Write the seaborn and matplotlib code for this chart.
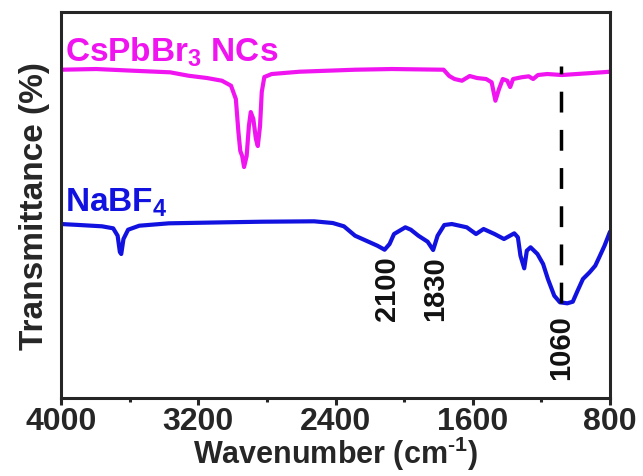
import seaborn as sns
import matplotlib.pyplot as plt
import pandas as pd

# CsPbBr3 NCs trace (wavenumber, height above bottom axis in px-like units)
cs_wn = [4000, 3795, 3580, 3364, 3257, 3149, 3062, 3009, 2981, 2966, 2955, 2944,
         2933, 2918, 2905, 2894, 2879, 2864, 2853, 2840, 2830, 2815, 2772, 2610,
         2287, 2071, 1770, 1737, 1706, 1663, 1618, 1575, 1522, 1490, 1468, 1447,
         1425, 1399, 1382, 1365, 1317, 1274, 1248, 1220, 1166, 1080, 994, 907, 800]
cs_t = [328.3, 329, 327.3, 325.7, 322.3, 320, 317.3, 312.3, 299, 266, 247, 242,
        231, 242, 272, 286, 279, 259, 252, 272, 306, 321, 324, 326.3,
        328.3, 329, 328.3, 322, 319, 317.3, 322, 320, 319, 315.7, 297.3, 309,
        319, 317.3, 311, 319, 320.7, 321.7, 319, 323, 324, 323, 324, 325, 326.3]

# NaBF4 trace
na_wn = [4000, 3892, 3761, 3696, 3670, 3657, 3649, 3636, 3609, 3544, 3371, 3045,
         2829, 2525, 2416, 2351, 2286, 2221, 2156, 2114, 2085, 2059, 1993, 1961,
         1917, 1863, 1831, 1805, 1766, 1722, 1635, 1581, 1537, 1473, 1418, 1358,
         1337, 1322, 1300, 1285, 1263, 1223, 1190, 1162, 1125, 1092, 1049, 1017,
         989, 958, 919, 886, 863, 832, 800]
na_t = [174, 173, 171.7, 169.7, 162.3, 146, 144, 159, 168.3, 172.3, 174.7, 175.7,
        176.3, 176.7, 175, 171.7, 162.3, 157.3, 152.3, 148.3, 154, 164, 170.7, 168.3,
        162.3, 156.3, 148, 162.3, 173, 174, 170.7, 164, 169, 164, 159, 164.7,
        160.7, 142.3, 129.7, 147.3, 150.7, 144, 134, 119, 102.3, 95.7, 94.7, 96.3,
        107.3, 119, 125.7, 132.3, 140.7, 152.3, 166.3]

peak_labels = ["2100", "1830", "1060"]
peak_x = [2102, 1820, 1084]
peak_y = [110, 110, 51]
dash_x = 1084
dash_top = 332
dash_bottom = 95

sns.set_style("ticks")
plt.rcParams['font.family'] = ['Liberation Sans', 'DejaVu Sans']
plt.rcParams['font.weight'] = 'bold'
plt.rcParams['mathtext.fontset'] = 'custom'
plt.rcParams['mathtext.rm'] = 'Liberation Sans:bold'
plt.rcParams['mathtext.bf'] = 'Liberation Sans:bold'
plt.rcParams['mathtext.default'] = 'bf'

fig, ax = plt.subplots(figsize=(6.43, 4.77), dpi=100)
fig.subplots_adjust(left=0.0949, right=0.9487, top=0.9727, bottom=0.1635)

cs = pd.DataFrame({"wn": cs_wn, "t": cs_t})
na = pd.DataFrame({"wn": na_wn, "t": na_t})
sns.lineplot(data=cs, x="wn", y="t", color="#F014F0", lw=3, estimator=None, ax=ax)
sns.lineplot(data=na, x="wn", y="t", color="#1212E0", lw=3, estimator=None, ax=ax)

ax.plot([dash_x, dash_x], [dash_bottom, dash_top], color="black", lw=2.5,
        linestyle=(0, (6, 5)))

for lab, px, py in zip(peak_labels, peak_x, peak_y):
    ax.text(px, py, lab, rotation=90, ha="center", va="center",
            fontsize=21, fontweight="bold", color="#111111")

ax.text(3978, 337, r"CsPbBr$_{3}$ NCs", color="#F014F0", fontsize=24,
        fontweight="bold", va="baseline", ha="left")
ax.text(3978, 187, r"NaBF$_{4}$", color="#1212E0", fontsize=24,
        fontweight="bold", va="baseline", ha="left")

ax.set_xlim(4000, 800)
ax.set_ylim(0, 386)
ax.set_xticks([4000, 3200, 2400, 1600, 800])
ax.set_xticks([3600, 2800, 2000, 1200], minor=True)
ax.set_yticks([])
ax.tick_params(axis="x", which="major", length=5, width=2.2, labelsize=23, pad=1)
ax.tick_params(axis="x", which="minor", length=3, width=2.2)
for lab in ax.get_xticklabels():
    lab.set_fontweight("bold")
for sp in ax.spines.values():
    sp.set_visible(True)
    sp.set_linewidth(2.2)

ax.set_xlabel(r"Wavenumber (cm$^{\text{-}1}$)", fontsize=22,
              fontweight="bold", labelpad=-2)
ax.set_ylabel("Transmittance (%)", fontsize=24, fontweight="bold", labelpad=8)

fig.savefig("out.png", dpi=100)
